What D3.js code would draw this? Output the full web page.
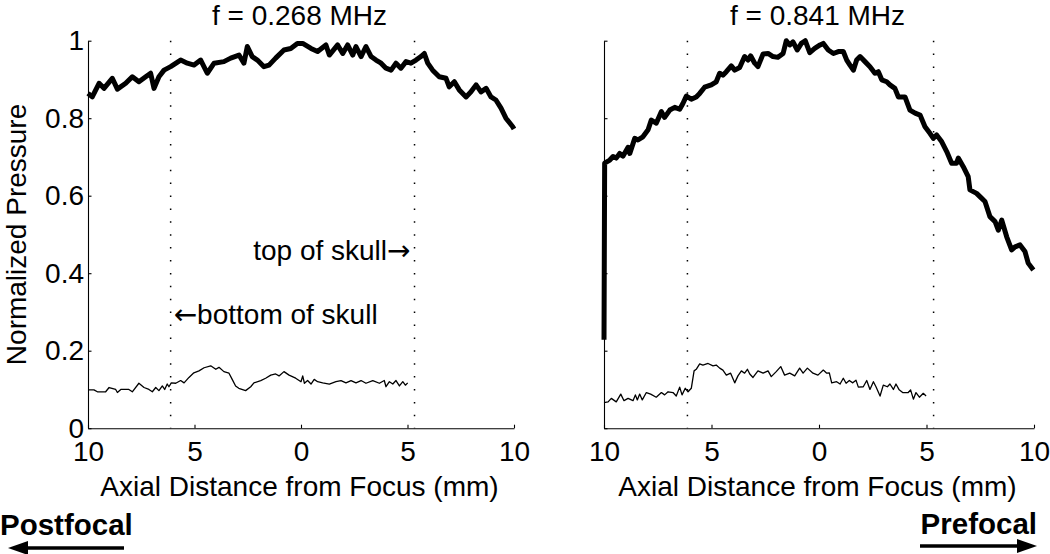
<!DOCTYPE html>
<html>
<head>
<meta charset="utf-8">
<script src="https://cdn.jsdelivr.net/npm/d3@7"></script>
<style>
  html, body { margin: 0; padding: 0; background: #fff; }
  svg { display: block; }
  text { font-family: "Liberation Sans", Arial, Helvetica, sans-serif; fill: #000; }
  .arrowglyph { font-family: "DejaVu Sans", sans-serif; }
</style>
</head>
<body>
<svg id="chart" width="1050" height="554"></svg>
<script>
// ---- data (axial distance mm, normalized pressure) ----
const panelTitles = ["f = 0.268 MHz", "f = 0.841 MHz"];
const xTicks = [-10, -5, 0, 5, 10];
const yTicks = [0, 0.2, 0.4, 0.6, 0.8, 1];
const skullMarks = [-6.12, 5.33];

const leftThick = [[-10.00,0.864],[-9.80,0.855],[-9.48,0.890],[-9.25,0.877],[-8.86,0.903],[-8.62,0.875],[-8.23,0.890],[-7.92,0.907],[-7.61,0.894],[-7.29,0.907],[-7.06,0.916],[-6.90,0.877],[-6.67,0.907],[-6.43,0.924],[-6.12,0.933],[-5.65,0.950],[-5.34,0.942],[-5.02,0.937],[-4.71,0.950],[-4.40,0.916],[-4.08,0.942],[-3.62,0.946],[-3.30,0.955],[-2.91,0.963],[-2.68,0.942],[-2.52,0.985],[-2.29,0.959],[-2.05,0.950],[-1.74,0.933],[-1.50,0.937],[-1.19,0.955],[-0.80,0.976],[-0.48,0.980],[-0.17,0.993],[0.08,0.993],[0.47,0.980],[0.78,0.972],[1.17,0.989],[1.33,0.963],[1.72,0.989],[1.96,0.967],[2.19,0.989],[2.43,0.963],[2.58,0.985],[2.82,0.959],[3.05,0.985],[3.29,0.959],[3.52,0.950],[3.76,0.942],[3.99,0.929],[4.23,0.924],[4.46,0.942],[4.69,0.929],[4.93,0.946],[5.16,0.942],[5.40,0.950],[5.63,0.959],[5.79,0.967],[5.95,0.942],[6.18,0.924],[6.49,0.907],[6.81,0.903],[6.96,0.881],[7.20,0.894],[7.43,0.873],[7.75,0.855],[7.98,0.868],[8.22,0.886],[8.45,0.868],[8.69,0.877],[8.92,0.855],[9.15,0.847],[9.39,0.826],[9.62,0.800],[9.94,0.778],[10.00,0.772]];

const leftThin = [[-10.00,0.099],[-9.72,0.099],[-9.56,0.094],[-9.17,0.094],[-9.01,0.105],[-8.70,0.100],[-8.62,0.092],[-8.46,0.100],[-8.08,0.100],[-7.92,0.094],[-7.61,0.116],[-7.37,0.105],[-7.14,0.100],[-6.98,0.094],[-6.82,0.105],[-6.67,0.097],[-6.51,0.109],[-6.40,0.100],[-6.28,0.114],[-6.20,0.107],[-6.09,0.117],[-5.88,0.116],[-5.65,0.123],[-5.49,0.117],[-5.26,0.131],[-5.03,0.143],[-4.79,0.148],[-4.55,0.156],[-4.24,0.161],[-4.00,0.152],[-3.85,0.157],[-3.62,0.146],[-3.38,0.142],[-3.23,0.126],[-3.07,0.109],[-2.92,0.103],[-2.60,0.097],[-2.36,0.107],[-2.21,0.117],[-1.89,0.123],[-1.66,0.129],[-1.42,0.137],[-1.19,0.140],[-1.03,0.135],[-0.80,0.146],[-0.56,0.137],[-0.25,0.129],[0.00,0.120],[0.08,0.135],[0.16,0.116],[0.31,0.123],[0.47,0.114],[0.62,0.126],[0.78,0.120],[1.02,0.117],[1.33,0.114],[1.64,0.120],[1.88,0.123],[2.11,0.117],[2.35,0.123],[2.58,0.117],[2.82,0.123],[3.05,0.116],[3.37,0.123],[3.68,0.116],[3.91,0.123],[3.99,0.107],[4.15,0.120],[4.31,0.114],[4.46,0.123],[4.62,0.109],[4.78,0.120],[4.90,0.111],[5.01,0.117]];

const rightThick = [[-10.00,0.228],[-9.97,0.684],[-9.73,0.692],[-9.58,0.701],[-9.43,0.697],[-9.27,0.709],[-9.12,0.702],[-8.88,0.725],[-8.80,0.709],[-8.57,0.748],[-8.42,0.744],[-8.19,0.752],[-7.95,0.770],[-7.80,0.795],[-7.57,0.787],[-7.33,0.817],[-7.18,0.802],[-6.94,0.821],[-6.71,0.828],[-6.48,0.823],[-6.33,0.838],[-6.17,0.857],[-5.94,0.849],[-5.71,0.855],[-5.55,0.864],[-5.32,0.880],[-5.01,0.886],[-4.78,0.894],[-4.62,0.916],[-4.47,0.911],[-4.31,0.920],[-4.08,0.935],[-3.92,0.924],[-3.69,0.931],[-3.46,0.959],[-3.30,0.950],[-3.18,0.961],[-2.99,0.942],[-2.84,0.933],[-2.60,0.966],[-2.37,0.967],[-2.14,0.959],[-1.91,0.957],[-1.67,0.967],[-1.52,1.000],[-1.36,0.989],[-1.21,0.997],[-1.01,0.976],[-0.82,0.993],[-0.64,1.000],[-0.43,0.969],[-0.20,0.980],[0.05,0.989],[0.20,0.993],[0.43,0.976],[0.67,0.967],[0.90,0.972],[1.13,0.972],[1.29,0.950],[1.44,0.937],[1.60,0.924],[1.75,0.950],[1.91,0.959],[2.14,0.946],[2.37,0.933],[2.60,0.916],[2.76,0.920],[2.92,0.899],[3.15,0.894],[3.30,0.886],[3.53,0.877],[3.69,0.855],[4.00,0.855],[4.23,0.821],[4.47,0.813],[4.70,0.808],[4.93,0.778],[5.16,0.761],[5.32,0.748],[5.47,0.757],[5.71,0.739],[5.94,0.714],[6.17,0.684],[6.40,0.684],[6.48,0.697],[6.71,0.675],[6.94,0.649],[7.02,0.615],[7.33,0.606],[7.57,0.593],[7.72,0.585],[7.95,0.546],[8.19,0.533],[8.34,0.511],[8.50,0.537],[8.73,0.494],[8.96,0.460],[9.12,0.468],[9.35,0.473],[9.58,0.456],[9.73,0.426],[9.97,0.408]];

const rightThin = [[-10.00,0.066],[-9.81,0.068],[-9.66,0.077],[-9.43,0.068],[-9.22,0.088],[-9.07,0.071],[-8.88,0.077],[-8.65,0.071],[-8.54,0.086],[-8.45,0.073],[-8.34,0.088],[-8.22,0.073],[-8.03,0.092],[-7.83,0.088],[-7.57,0.080],[-7.33,0.092],[-7.18,0.086],[-7.02,0.094],[-6.79,0.092],[-6.64,0.083],[-6.48,0.106],[-6.37,0.086],[-6.22,0.103],[-6.09,0.094],[-5.94,0.103],[-5.81,0.148],[-5.71,0.152],[-5.55,0.166],[-5.40,0.163],[-5.16,0.167],[-4.93,0.161],[-4.78,0.163],[-4.62,0.155],[-4.47,0.150],[-4.31,0.137],[-4.11,0.142],[-3.92,0.117],[-3.77,0.135],[-3.61,0.148],[-3.46,0.142],[-3.33,0.152],[-3.22,0.140],[-3.07,0.131],[-2.84,0.148],[-2.60,0.142],[-2.37,0.148],[-2.22,0.133],[-1.99,0.146],[-1.78,0.159],[-1.60,0.137],[-1.36,0.142],[-1.13,0.135],[-0.90,0.155],[-0.74,0.142],[-0.54,0.155],[-0.28,0.142],[-0.05,0.137],[0.20,0.150],[0.36,0.142],[0.48,0.143],[0.59,0.117],[0.82,0.120],[0.98,0.114],[1.13,0.129],[1.26,0.116],[1.41,0.123],[1.57,0.117],[1.72,0.124],[1.83,0.106],[2.06,0.107],[2.22,0.123],[2.37,0.100],[2.53,0.120],[2.65,0.107],[2.84,0.083],[2.99,0.111],[3.18,0.107],[3.30,0.114],[3.46,0.100],[3.58,0.114],[3.73,0.099],[3.89,0.092],[4.15,0.092],[4.26,0.099],[4.39,0.075],[4.51,0.092],[4.67,0.080],[4.85,0.090],[4.98,0.083]];

// ---- layout ----
const svg = d3.select("#chart");
const FONT = 28;
const yTop = 40.7, yBot = 428.2;
const y = d3.scaleLinear().domain([0, 1]).range([yBot, yTop]);

const panels = [
  { title: panelTitles[0], x0: 88, x1: 514, thick: leftThick, thin: leftThin, yLabels: true },
  { title: panelTitles[1], x0: 604, x1: 1034, thick: rightThick, thin: rightThin, yLabels: false }
];

const line = (x) => d3.line().x(d => x(d[0])).y(d => y(d[1]));

panels.forEach(p => {
  const x = d3.scaleLinear().domain([-10, 10]).range([p.x0, p.x1]);
  const g = svg.append("g");

  // dotted skull markers
  g.selectAll("line.skull").data(skullMarks).enter().append("line")
    .attr("class", "skull")
    .attr("x1", d => x(d)).attr("x2", d => x(d))
    .attr("y1", y(1)).attr("y2", y(0))
    .attr("stroke", "#000").attr("stroke-width", 1.5)
    .attr("stroke-dasharray", "1.5,11.4");

  // curves
  g.append("path").datum(p.thin)
    .attr("d", line(x))
    .attr("fill", "none").attr("stroke", "#000").attr("stroke-width", 1.3)
    .attr("stroke-linejoin", "round");
  g.append("path").datum(p.thick)
    .attr("d", line(x))
    .attr("fill", "none").attr("stroke", "#000").attr("stroke-width", 5)
    .attr("stroke-linejoin", "round");

  // axes
  const ax = g.append("g").attr("transform", `translate(${p.x0},0)`)
    .call(d3.axisLeft(y).tickValues(yTicks).tickSize(-3.5).tickSizeOuter(0).tickPadding(4)
      .tickFormat(p.yLabels ? (d => String(d)) : (() => "")));
  const bx = g.append("g").attr("transform", `translate(0,${yBot})`)
    .call(d3.axisBottom(x).tickValues(xTicks).tickSize(-3.5).tickSizeOuter(0).tickPadding(12.5)
      .tickFormat(d => String(Math.abs(d))));
  [ax, bx].forEach(a => {
    a.attr("font-family", null).attr("font-size", null);
    a.selectAll("text").style("font-size", FONT + "px").attr("fill", "#000");
    a.selectAll("path, line").attr("stroke", "#000").attr("stroke-width", 1.1);
  });

  // title
  g.append("text").attr("x", (p.x0 + p.x1) / 2 - 1.5).attr("y", 25)
    .attr("text-anchor", "middle").style("font-size", FONT + "px").text(p.title);
  // x label
  g.append("text").attr("x", (p.x0 + p.x1) / 2 - 1.5).attr("y", 496)
    .attr("text-anchor", "middle").style("font-size", FONT + "px")
    .text("Axial Distance from Focus (mm)");

  if (p.yLabels) {
    g.append("text").attr("transform", `translate(25.5,${(yTop + yBot) / 2}) rotate(-90)`)
      .attr("text-anchor", "middle").style("font-size", FONT + "px")
      .text("Normalized Pressure");
    const t1 = g.append("text").attr("x", x(skullMarks[1]) - 4).attr("y", 260)
      .attr("text-anchor", "end").style("font-size", FONT + "px");
    t1.append("tspan").text("top of skull");
    t1.append("tspan").attr("class", "arrowglyph").text("\u2192");
    const t2 = g.append("text").attr("x", x(skullMarks[0]) + 3).attr("y", 324)
      .attr("text-anchor", "start").style("font-size", FONT + "px");
    t2.append("tspan").attr("class", "arrowglyph").text("\u2190");
    t2.append("tspan").text("bottom of skull");
  }
});

// direction labels with arrows
svg.append("text").attr("x", 0).attr("y", 535).attr("text-anchor", "start")
  .style("font-size", "29.5px").style("font-weight", "bold").text("Postfocal");
svg.append("line").attr("x1", 124).attr("x2", 22).attr("y1", 548).attr("y2", 548)
  .attr("stroke", "#000").attr("stroke-width", 3.5);
svg.append("path").attr("d", "M8,548L28,541L28,555Z").attr("fill", "#000");

svg.append("text").attr("x", 1037).attr("y", 533.5).attr("text-anchor", "end")
  .style("font-size", "29.5px").style("font-weight", "bold").text("Prefocal");
svg.append("line").attr("x1", 920).attr("x2", 1022).attr("y1", 546).attr("y2", 546)
  .attr("stroke", "#000").attr("stroke-width", 3.5);
svg.append("path").attr("d", "M1037,546L1017,539L1017,553Z").attr("fill", "#000");
</script>
</body>
</html>
